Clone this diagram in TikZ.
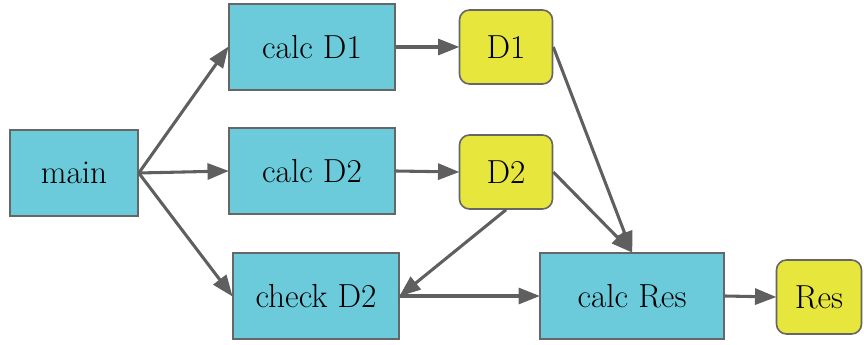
\documentclass[tikz,border=0pt]{standalone}
\usetikzlibrary{arrows.meta}
\definecolor{boxcyan}{HTML}{6BCBDB}
\definecolor{boxyellow}{HTML}{E6E63C}
\definecolor{edgegray}{HTML}{666666}
\definecolor{arrowgray}{HTML}{5F5F5F}
\tikzset{
  procbox/.style={draw=edgegray, line width=1.2pt, fill=boxcyan, minimum height=64.5pt, inner sep=0pt, font=\rmfamily\fontsize{25}{30}\selectfont},
  databox/.style={draw=edgegray, line width=1.2pt, fill=boxyellow, rounded corners=7.5pt, minimum height=55.5pt, inner sep=0pt, font=\rmfamily\fontsize{25}{30}\selectfont},
  conn/.style={draw=arrowgray, line width=2.3pt, -{Triangle[length=16pt,width=12pt]}, shorten >=-0.5pt}
}
\begin{document}
\begin{tikzpicture}[x=0.75pt,y=-0.75pt]
\useasboundingbox (0,0) rectangle (864,345);
\node[procbox, minimum width=96pt] (main) at (74,173) {main};
\node[procbox, minimum width=124.5pt] (cd1) at (312,47) {calc D1};
\node[procbox, minimum width=124.5pt] (cd2) at (312,171) {calc D2};
\node[procbox, minimum width=124.5pt] (chk) at (316,296) {check D2};
\node[databox, minimum width=69.75pt] (d1) at (506,47) {D1};
\node[databox, minimum width=69.75pt] (d2) at (506,172) {D2};
\node[procbox, minimum width=138pt] (res) at (632,296) {calc Res};
\node[databox, minimum width=63.75pt] (r) at (819,297) {Res};
\draw[conn] (main.east) -- (cd1.west);
\draw[conn] (main.east) -- (cd2.west);
\draw[conn] (main.east) -- (chk.west);
\draw[conn] (cd1.east) -- (d1.west);
\draw[conn] (cd2.east) -- (d2.west);
\draw[conn] (d1.east) -- (res.north);
\draw[conn] (d2.east) -- (res.north);
\draw[conn] (d2.south) -- (chk.east);
\draw[conn] (chk.east) -- (res.west);
\draw[conn] (res.east) -- (r.west);
\end{tikzpicture}
\end{document}
